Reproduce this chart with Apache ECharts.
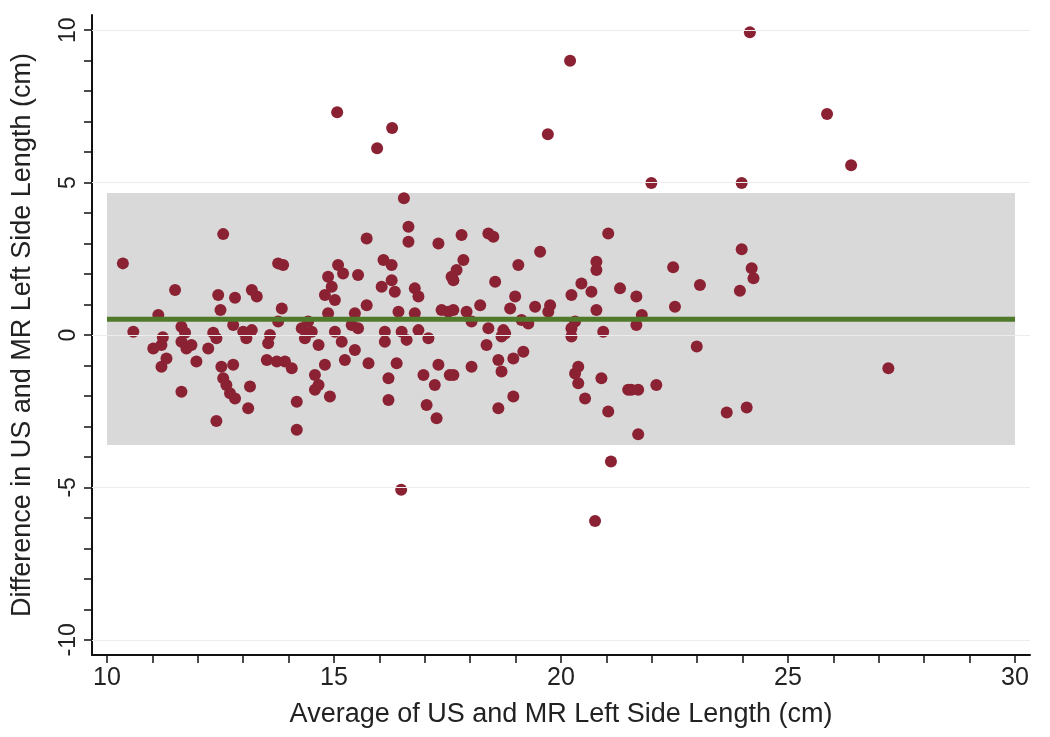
<!DOCTYPE html>
<html>
<head>
<meta charset="utf-8">
<title>Bland-Altman left side length</title>
<script src="https://cdn.jsdelivr.net/npm/echarts@6/dist/echarts.min.js"></script>
<style>
    html, body { margin: 0; padding: 0; background: #fff; }
    #main { width: 1050px; height: 737px; }
</style>
</head>
<body>
<div id="main"></div>
<script>
// average of US and MR (cm), one entry per subject
var avgLength = [
    15.07, 16.28, 15.95, 19.71, 20.2, 24.16, 25.86, 26.39, 21.99, 23.98, 16.54, 27.21, 16.48, 20.75, 21.1,
    12.56, 10.35, 11.5, 12.45, 12.82, 13.19, 13.3, 12.5, 13.77, 11.13, 10.58, 11.64, 11.72, 12.34, 12.78, 13.0, 13.19, 13.59, 11.23,
    11.02, 11.2, 11.31, 11.2, 11.64, 11.75, 11.86, 11.97, 12.23, 12.41, 11.64, 12.52, 12.78, 12.56, 12.63, 12.71, 12.82, 13.15, 13.11, 12.41, 13.07, 13.55, 13.52, 13.74,
    16.64, 16.64, 15.72, 17.3, 13.88, 15.09, 15.2, 15.53, 16.09, 16.27, 14.87, 14.95, 14.8, 15.02, 16.05, 16.27, 16.34, 16.78, 16.86, 17.59,
    15.72, 13.85, 14.87, 15.46, 16.42, 16.78, 17.37, 17.52, 14.43, 14.29, 14.51, 15.02, 15.39, 15.53, 16.12, 16.49, 16.86, 13.77,
    13.92, 14.07, 14.58, 14.66, 14.58, 14.8, 14.91, 14.18, 14.18, 15.24, 15.46, 15.76, 16.38, 16.2, 16.2, 16.12, 16.6, 17.08, 14.36, 14.66, 15.17,
    17.3, 16.97, 17.22, 17.55, 17.04, 17.26,
    17.81, 18.4, 18.51, 21.04, 19.54, 17.85, 17.7, 17.63, 19.06, 20.78, 20.78, 18.55, 20.45, 20.67, 20.23, 21.3, 18.99,
    18.22, 18.88, 19.43, 19.76, 19.72, 20.78, 17.63, 17.92, 18.03, 19.13, 19.28, 18.4, 18.73, 18.77, 20.23, 20.31, 20.93,
    18.36, 18.69, 17.63, 18.03, 18.62, 18.69, 18.95, 19.17, 18.95, 18.62, 20.23, 20.38, 20.31, 20.38, 20.53, 20.89, 21.04, 21.48,
    23.98, 22.47, 24.2, 24.24, 23.06, 23.94, 21.66, 22.51, 21.78, 21.66,
    22.99, 21.55, 21.7, 22.1, 23.65, 24.09, 21.7
];
// difference US - MR (cm), same order
var diffLength = [
    7.31, 6.79, 6.13, 6.59, 9.0, 9.93, 7.25, 5.57, 4.99, 4.99, 4.49, -1.09, -5.08, -6.1, -4.15,
    3.31, 2.35, 1.48, 1.31, 1.22, 1.48, 1.26, 0.82, 2.35, 0.66, 0.11, 0.27, 0.07, 0.07, 0.33, 0.11, 0.16, 0.0, -0.07,
    -0.44, -0.33, -0.77, -1.04, -0.22, -0.44, -0.33, -0.87, -0.44, -0.11, -1.86, -1.04, -0.98, -1.42, -1.64, -1.91, -2.08, -1.69, -2.4, -2.82, -0.11, -0.27, -0.82, -0.87,
    3.55, 3.06, 3.17, 3.0, 2.3, 2.3, 2.02, 1.97, 2.46, 2.3, 1.91, 1.58, 1.31, 1.15, 1.58, 1.8, 1.42, 1.53, 1.26, 1.91,
    0.98, 0.87, 0.71, 0.71, 0.76, 0.71, 0.82, 0.76, 0.44, 0.22, 0.11, 0.11, 0.33, 0.22, 0.11, 0.11, 0.16, 0.44,
    -0.87, -1.09, -1.31, -1.64, -1.8, -0.98, -2.02, -2.19, -3.11, -0.82, -0.49, -0.93, -0.93, -1.42, -2.13, -0.22, -0.16, -0.11, -0.11, -0.33, -0.22,
    -0.98, -1.31, -1.64, -1.31, -2.3, -2.73,
    3.28, 3.33, 3.22, 3.33, 2.73, 2.46, 2.13, 1.8, 2.3, 2.4, 2.13, 1.75, 1.69, 1.42, 1.31, 1.53, 1.26,
    0.98, 0.87, 0.93, 0.98, 0.76, 0.82, 0.82, 0.76, 0.44, 0.49, 0.38, 0.22, 0.16, 0.05, 0.22, 0.44, 0.11,
    -0.33, -0.05, -1.31, -1.04, -0.82, -1.2, -0.77, -0.55, -2.02, -2.4, -0.05, -1.04, -1.26, -1.58, -2.08, -1.42, -2.51, -1.8,
    2.81, 2.22, 2.19, 1.86, 1.64, 1.45, 1.26, 0.93, 0.66, 0.33,
    -0.38, -1.8, -1.8, -1.64, -2.54, -2.38, -3.26
];

var meanDiff = 0.52;
var lowerLimit = -3.61;
var upperLimit = 4.66;
var bandX = [10, 30];

var xLabelValues = [10, 15, 20, 25, 30];
var xTickValues = [10, 11, 12, 13, 14, 15, 16, 17, 18, 19, 20, 21, 22, 23, 24, 25, 26, 27, 28, 29, 30];
var yLabelValues = [-10, -5, 0, 5, 10];
var yTickValues = [-10, -9, -8, -7, -6, -5, -4, -3, -2, -1, 0, 1, 2, 3, 4, 5, 6, 7, 8, 9, 10];
var gridValues = [-10, -5, 0, 5, 10];

var points = avgLength.map(function (x, i) { return [x, diffLength[i]]; });

var font = '"Liberation Sans", Arial, sans-serif';
var myChart = echarts.init(document.getElementById('main'));

var option = {
    animation: false,
    backgroundColor: '#fff',
    grid: { left: 92, right: 20, top: 15, bottom: 82 },
    xAxis: {
        type: 'value',
        min: 9.67,
        max: 30.33,
        name: 'Average of US and MR Left Side Length (cm)',
        nameLocation: 'middle',
        nameGap: 46,
        nameTextStyle: { fontFamily: font, fontSize: 27, color: '#222' },
        axisLine: { onZero: false, lineStyle: { color: '#111', width: 2 } },
        axisTick: { customValues: xTickValues, length: 8, lineStyle: { color: '#111', width: 1.5 } },
        axisLabel: { customValues: xLabelValues, fontFamily: font, fontSize: 25, color: '#222', margin: 11 },
        splitLine: { show: false }
    },
    yAxis: {
        type: 'value',
        min: -10.5,
        max: 10.5,
        name: 'Difference in US and MR Left Side Length (cm)',
        nameLocation: 'middle',
        nameGap: 56,
        nameRotate: 90,
        nameTextStyle: { fontFamily: font, fontSize: 27, color: '#222' },
        axisLine: { onZero: false, lineStyle: { color: '#111', width: 2 } },
        axisTick: { customValues: yTickValues, length: 8, lineStyle: { color: '#111', width: 1.5 } },
        axisLabel: { customValues: yLabelValues, rotate: 90, fontFamily: font, fontSize: 23, color: '#222', margin: 12 },
        splitLine: { show: false }
    },
    series: [
        {
            // grey band of limits of agreement, plus faint horizontal gridlines
            type: 'line',
            data: [],
            z: 1,
            silent: true,
            markLine: {
                silent: true,
                symbol: 'none',
                label: { show: false },
                lineStyle: { color: '#ececec', width: 1, type: 'solid' },
                data: gridValues.map(function (v) { return { yAxis: v }; })
            },
            markArea: {
                silent: true,
                itemStyle: { color: '#d9d9d9' },
                data: [[{ coord: [bandX[0], upperLimit] }, { coord: [bandX[1], lowerLimit] }]]
            }
        },
        {
            name: 'subjects',
            type: 'scatter',
            z: 2,
            symbol: 'circle',
            symbolSize: 12,
            itemStyle: { color: '#8b2234', opacity: 1 },
            data: points
        },
        {
            name: 'mean difference',
            type: 'line',
            z: 3,
            symbol: 'none',
            lineStyle: { color: '#4e7a2a', width: 5 },
            data: bandX.map(function (x) { return [x, meanDiff]; })
        }
    ]
};

myChart.setOption(option);
</script>
</body>
</html>
